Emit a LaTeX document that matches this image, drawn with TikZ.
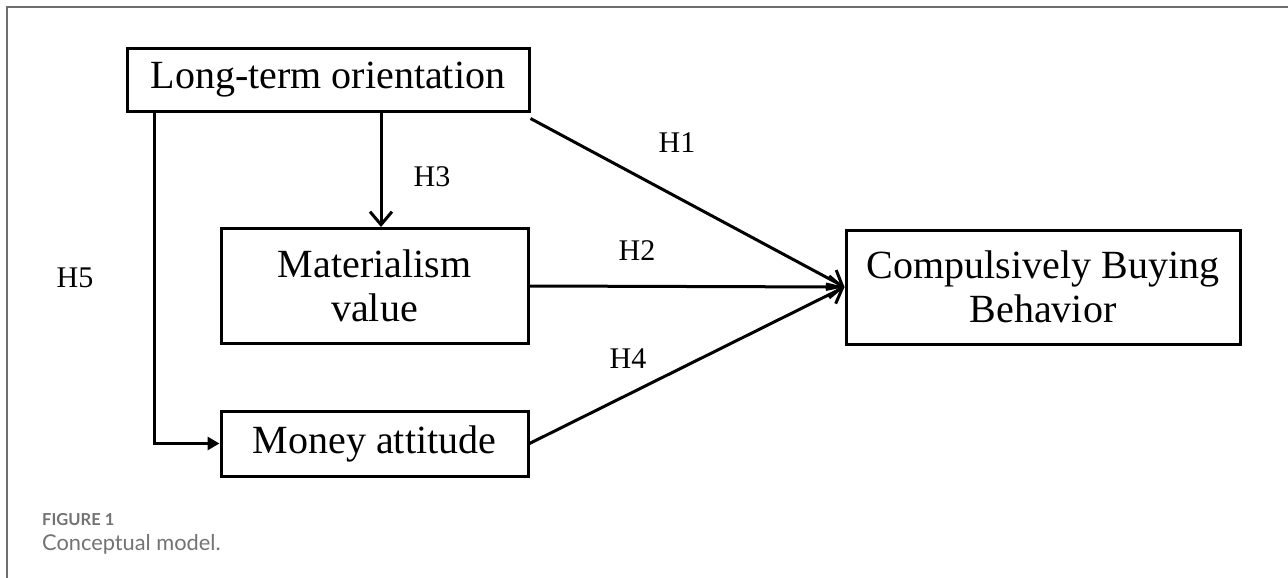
\documentclass[tikz,border=0pt]{standalone}
\usepackage{fontspec}
\setmainfont{Liberation Serif}
\newfontfamily\capfont{Lato}
\usetikzlibrary{arrows.meta}
\definecolor{framegray}{HTML}{6E6E6E}
\definecolor{capgray}{HTML}{737373}
\tikzset{
  box/.style={draw=black, line width=3pt, align=center, font=\fontsize{40}{44}\selectfont, inner sep=0pt},
  conn/.style={line width=3pt, -{Straight Barb[length=13pt,width=22pt,line width=3pt]}},
  connf/.style={line width=3pt, -{Triangle[length=12pt,width=13pt]}},
  hlab/.style={font=\fontsize{30}{32}\selectfont, inner sep=0pt},
}
\begin{document}
\begin{tikzpicture}[x=1pt,y=-1pt]
\useasboundingbox (0,0) rectangle (1288,578);
\fill[white] (0,0) rectangle (1288,578);
\draw[framegray, line width=1.8pt] (7,578) -- (7,7) -- (1288,7);

\node[box, minimum width=402pt, minimum height=62pt] (LT) at (328,80) {Long-term orientation};
\node[box, minimum width=307pt, minimum height=115pt] (Mat) at (374.5,286) {Materialism\\value};
\node[box, minimum width=307pt, minimum height=65pt] (Mon) at (374.5,443.5) {Money attitude};
\node[box, minimum width=394pt, minimum height=114pt] (CBB) at (1043,287) {Compulsively Buying\\Behavior};

\draw[conn] ([xshift=6.5pt]Mat.north |- LT.south) -- ([xshift=6.5pt]Mat.north);
\draw[connf] ([xshift=29pt]LT.south west) |- (Mon.west);
\draw[conn] ([yshift=-6pt]LT.south east) -- (CBB.west);
\draw[conn] (Mat.east) -- (CBB.west);
\draw[conn] (Mon.east) -- (CBB.west);

\node[hlab] (h1) at (677,143) {H1};
\node[hlab] (h2) at (637,251) {H2};
\node[hlab] (h3) at (432,177) {H3};
\node[hlab] (h4) at (628,359) {H4};
\node[hlab] (h5) at (75,278) {H5};

\node[anchor=base west, inner sep=0pt, text=capgray, font=\capfont\bfseries\fontsize{16.5}{18}\selectfont] (fig) at (42,525) {FIGURE 1};
\node[anchor=base west, inner sep=0pt, text=capgray, font=\capfont\fontsize{21.8}{24}\selectfont] (cap) at (42,550) {Conceptual model.};
\end{tikzpicture}
\end{document}
